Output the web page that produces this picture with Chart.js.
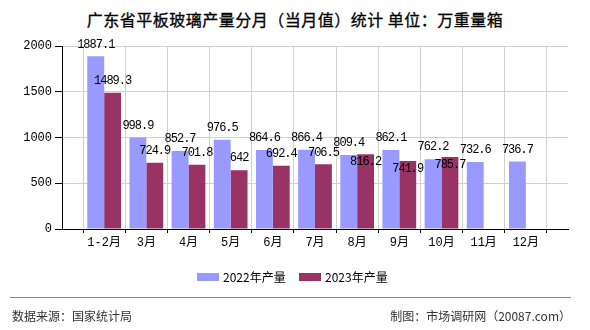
<!DOCTYPE html>
<html>
<head>
<meta charset="utf-8">
<script src="https://cdn.jsdelivr.net/npm/chart.js@4/dist/chart.umd.min.js"></script>
<style>
    html, body { margin: 0; padding: 0; background: #fff; }
    #wrap { position: relative; width: 590px; height: 330px; overflow: hidden; font-family: "Noto Sans CJK SC", sans-serif; }
    #title { position: absolute; left: 0; width: 590px; top: 7px; text-align: center; font-size: 16px; font-weight: normal; color: #000; letter-spacing: 0.5px; -webkit-text-stroke: 0.3px #000; }
    #mark { position: absolute; left: 300px; top: 106px; font-size: 32px; color: rgba(0, 0, 0, 0.015); }
    #bar { position: absolute; left: 0; top: 0; }
    .legend { position: absolute; top: 269px; font-size: 12px; color: #000; line-height: 16px; }
    .legend i { display: inline-block; width: 22px; height: 8px; margin-right: 4px; vertical-align: 1px; }
    #line { position: absolute; left: 10px; top: 297px; width: 561px; height: 1px; background: #888; }
    .foot { position: absolute; top: 307px; font-size: 12px; color: #333; line-height: 18px; }
</style>
</head>
<body>
<div id="wrap">
    <div id="title">广东省平板玻璃产量分月（当月值）统计 单位：万重量箱</div>
    <div id="mark">市场调研网</div>
    <canvas id="bar" width="590" height="330"></canvas>
    <div class="legend" style="left:197px"><i style="background:#9999ff"></i>2022年产量</div>
    <div class="legend" style="left:299px"><i style="background:#993366"></i>2023年产量</div>
    <div id="line"></div>
    <div class="foot" style="left:12px">数据来源：国家统计局</div>
    <div class="foot" style="right:19px">制图：市场调研网（20087.com）</div>
</div>
<script>
    // 月份及两年产量（万重量箱）
    var months = ['1-2月', '3月', '4月', '5月', '6月', '7月', '8月', '9月', '10月', '11月', '12月'];
    var output2022 = [1887.1, 998.9, 852.7, 976.5, 864.6, 866.4, 809.4, 862.1, 762.2, 732.6, 736.7];
    var output2023 = [1489.3, 724.9, 701.8, 642, 692.4, 706.5, 816.2, 741.9, 785.7];
    var yTicks = [0, 500, 1000, 1500, 2000];

    // 两端各留一个空位，月份落在网格线上
    function pad(arr) {
        var out = [null];
        for (var i = 0; i < months.length; i++) {
            out.push(i < arr.length ? arr[i] : null);
        }
        out.push(null);
        return out;
    }

    var labels = [''].concat(months, ['']);

    // 柱顶数值标签，与前一组标签重叠时移到柱内
    var valueLabels = {
        id: 'valueLabels',
        afterDatasetsDraw: function (chart) {
            var ctx = chart.ctx;
            ctx.save();
            ctx.font = '12px "Liberation Mono", monospace';
            ctx.letterSpacing = '-1px';
            ctx.fillStyle = '#000';
            ctx.textAlign = 'center';
            ctx.textBaseline = 'middle';
            var prevY = {};
            chart.data.datasets.forEach(function (ds, d) {
                var meta = chart.getDatasetMeta(d);
                meta.data.forEach(function (bar, i) {
                    var v = ds.data[i];
                    if (v === null || v === undefined) return;
                    var y = bar.y - 12;
                    if (d === 1 && prevY[i] !== undefined && Math.abs(prevY[i] - y) < 12) {
                        y = bar.y + 8;
                    }
                    if (d === 0) prevY[i] = y;
                    ctx.fillText(String(v), bar.x, y);
                });
            });
            ctx.restore();
        }
    };

    var ctx = document.getElementById('bar').getContext('2d');
    var myBarChart = new Chart(ctx, {
        type: 'bar',
        data: {
            labels: labels,
            datasets: [
                { label: '2022年产量', data: pad(output2022), backgroundColor: '#9999ff' },
                { label: '2023年产量', data: pad(output2023), backgroundColor: '#993366' }
            ]
        },
        options: {
            responsive: false,
            animation: false,
            layout: { padding: { left: 0, top: 46, right: 22, bottom: 71 } },
            categoryPercentage: 0.8,
            barPercentage: 1.0,
            plugins: {
                legend: { display: false },
                tooltip: { enabled: false }
            },
            scales: {
                x: {
                    offset: false,
                    afterFit: function (s) { s.height = 30; },
                    grid: { color: '#d0d0d0', tickColor: '#000', tickLength: 4, drawOnChartArea: true },
                    border: { color: '#000', width: 1 },
                    ticks: {
                        color: '#000',
                        padding: 3,
                        maxRotation: 0,
                        autoSkip: false,
                        font: { family: '"Liberation Mono", "Noto Sans CJK SC"', size: 12 }
                    }
                },
                y: {
                    min: 0,
                    max: 2000,
                    afterFit: function (s) { s.width = 62; },
                    afterBuildTicks: function (s) { s.ticks = yTicks.map(function (v) { return { value: v }; }); },
                    grid: { color: '#d0d0d0', tickColor: '#000', tickLength: 7 },
                    border: { color: '#000', width: 1 },
                    ticks: {
                        color: '#000',
                        padding: 3,
                        callback: function (v) { return String(v); },
                        font: { family: '"Liberation Mono", monospace', size: 12 }
                    }
                }
            }
        },
        plugins: [valueLabels]
    });
</script>
</body>
</html>
